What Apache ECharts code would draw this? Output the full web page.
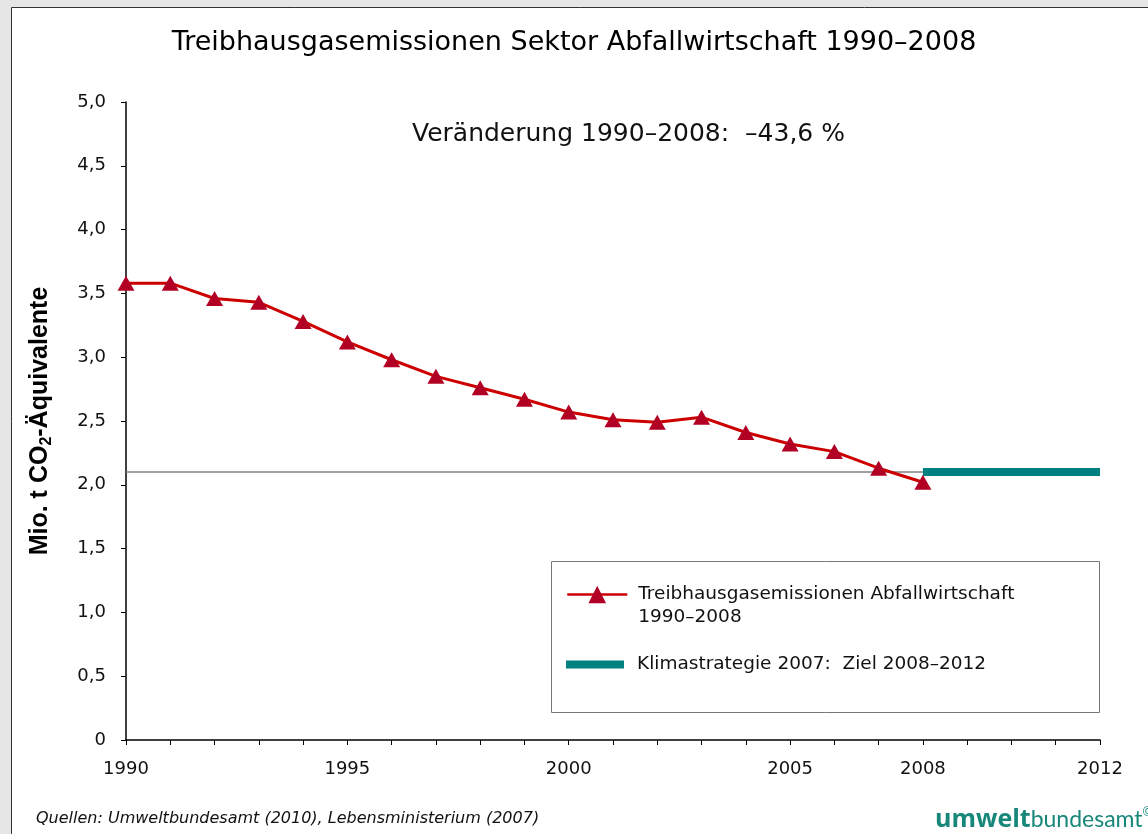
<!DOCTYPE html>
<html>
<head>
<meta charset="utf-8">
<script src="https://cdn.jsdelivr.net/npm/echarts@6/dist/echarts.min.js"></script>
<style>
html,body{margin:0;padding:0;background:#e6e6e6;}
#chart{width:1148px;height:834px;}
</style>
</head>
<body>
<div id="chart"></div>
<script>
// ---- data ----
var years = [1990,1991,1992,1993,1994,1995,1996,1997,1998,1999,2000,2001,2002,2003,2004,2005,2006,2007,2008];
var emissions = [3.58,3.58,3.46,3.43,3.28,3.12,2.98,2.85,2.76,2.67,2.57,2.51,2.49,2.53,2.41,2.32,2.26,2.13,2.02];
var targetValue = 2.1;
var referenceYears = [1990, 2008];
var targetYears = [2008, 2012];
var xLabelYears = [1990,1995,2000,2005,2008,2012];
var seriesNames = ['Treibhausgasemissionen Abfallwirtschaft 1990–2008', 'Klimastrategie 2007:  Ziel 2008–2012'];
var titleText = 'Treibhausgasemissionen Sektor Abfallwirtschaft 1990–2008';
var changeText = 'Veränderung 1990–2008:  –43,6 %';
var sourceText = 'Quellen: Umweltbundesamt (2010), Lebensministerium (2007)';

var FONT = 'DejaVu Sans';
var chart = echarts.init(document.getElementById('chart'));

var option = {
  animation: false,
  backgroundColor: 'transparent',
  title: {
    text: titleText,
    left: 'center',
    top: 24,
    textStyle: {fontFamily: FONT, fontSize: 27, fontWeight: 'normal', color: '#000'}
  },
  grid: {left: 126, right: 48, top: 102, bottom: 94, containLabel: false},
  xAxis: {
    type: 'value',
    min: 1990, max: 2012, interval: 1,
    splitLine: {show: false},
    axisLine: {show: true, lineStyle: {color: '#000', width: 1.5}},
    axisTick: {show: true, length: 5, lineStyle: {color: '#000', width: 1}},
    axisLabel: {
      fontFamily: FONT, fontSize: 18, color: '#111', margin: 20,
      formatter: function (v) { return xLabelYears.indexOf(v) >= 0 ? String(v) : ''; }
    }
  },
  yAxis: {
    type: 'value',
    min: 0, max: 5, interval: 0.5,
    splitLine: {show: false},
    axisLine: {show: true, lineStyle: {color: '#000', width: 1.5}},
    axisTick: {show: true, length: 5, lineStyle: {color: '#000', width: 1}},
    axisLabel: {
      fontFamily: FONT, fontSize: 18, color: '#111', margin: 20,
      formatter: function (v) { return v === 0 ? '0' : v.toFixed(1).replace('.', ','); }
    },
    name: '{a|Mio. t CO}{s|2}{a|-Äquivalente}',
    nameLocation: 'middle',
    nameGap: 71,
    nameRotate: 90,
    nameTextStyle: {
      rich: {
        a: {fontFamily: 'Liberation Sans', fontSize: 25, fontWeight: 'bold', color: '#000', lineHeight: 30, verticalAlign: 'middle'},
        s: {fontFamily: 'Liberation Sans', fontSize: 16, fontWeight: 'bold', color: '#000', lineHeight: 30, verticalAlign: 'bottom', padding: [10,0,0,0]}
      }
    }
  },
  legend: [
    {
      data: [seriesNames[0]],
      orient: 'vertical',
      left: 566, top: 560,
      z: 20,
      itemWidth: 60, itemHeight: 22,
      padding: 0,
      lineStyle: {width: 2.5},
      formatter: function (n) { return ' \n' + n.replace(' 1990', '\n1990'); },
      textStyle: {fontFamily: FONT, fontSize: 18.5, color: '#111', lineHeight: 23, padding: [0, 0, 0, 6]},
      selectedMode: false
    },
    {
      data: [{name: seriesNames[1], icon: 'rect'}],
      orient: 'vertical',
      left: 566, top: 655,
      z: 20,
      itemWidth: 58, itemHeight: 8,
      padding: 0,
      textStyle: {fontFamily: FONT, fontSize: 18.5, color: '#111', padding: [0, 0, 0, 8]},
      selectedMode: false
    }
  ],
  graphic: [
    {type: 'rect', z: -10, silent: true, shape: {x: 11.5, y: 7.5, width: 1150, height: 840},
      style: {fill: '#fff', stroke: '#333', lineWidth: 1}},
    {type: 'rect', z: -5, silent: true, shape: {x: 551.5, y: 561.5, width: 548, height: 151},
      style: {fill: '#fff', stroke: '#777', lineWidth: 1}},
    {type: 'text', z: 10, left: 412, top: 122, silent: true,
      style: {text: changeText, fontFamily: FONT, fontSize: 25, fill: '#111'}},
    {type: 'text', z: 10, left: 36, top: 811, silent: true,
      style: {text: sourceText, fontFamily: FONT, fontSize: 16, fontStyle: 'italic', fill: '#111'}},
    {type: 'text', z: 10, left: 935, top: 807, silent: true,
      style: {
        text: '{b|umwelt}{n|bundesamt}{c|©}',
        rich: {
          b: {fontFamily: 'Open Sans', fontSize: 25, fontWeight: 'bold', fill: '#17877a'},
          n: {fontFamily: 'Lato', fontSize: 23, fill: '#17877a'},
          c: {fontFamily: 'Open Sans', fontSize: 12, fill: '#17877a', verticalAlign: 'top', padding: [0,0,12,0]}
        }
      }}
  ],
  series: [
    {
      name: 'ref',
      type: 'line',
      silent: true,
      symbol: 'none',
      z: 1,
      lineStyle: {color: '#808080', width: 1.5},
      data: referenceYears.map(function (y) { return [y, targetValue]; })
    },
    {
      name: seriesNames[1],
      type: 'line',
      silent: true,
      symbol: 'none',
      z: 2,
      lineStyle: {color: '#008080', width: 8, cap: 'butt'},
      itemStyle: {color: '#008080'},
      data: targetYears.map(function (y) { return [y, targetValue]; })
    },
    {
      name: seriesNames[0],
      type: 'line',
      silent: true,
      z: 3,
      symbol: 'triangle',
      symbolSize: [17, 15],
      lineStyle: {color: '#cc0000', width: 3},
      itemStyle: {color: '#b20024'},
      data: years.map(function (y, i) { return [y, emissions[i]]; })
    }
  ]
};
chart.setOption(option);
</script>
</body>
</html>
